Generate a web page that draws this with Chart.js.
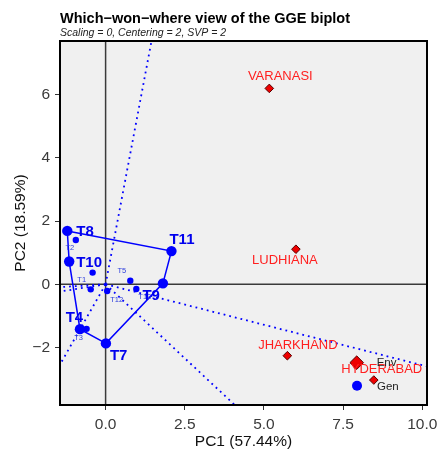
<!DOCTYPE html>
<html>
<head>
<meta charset="utf-8">
<script src="https://cdn.jsdelivr.net/npm/chart.js@4/dist/chart.umd.min.js"></script>
<style>
  html, body { margin: 0; padding: 0; background: #ffffff; }
  #wrap { width: 439px; height: 452px; }
</style>
</head>
<body>
<div id="wrap"><canvas id="c" width="439" height="452"></canvas></div>
<script>
// Genotype scores (PC1, PC2)
const genNames = ['T8', 'T2', 'T10', 'T6', 'T1', 'T12', 'T5', 'T13', 'T9', 'T11', 'T4', 'T3', 'T7'];
const genPC1   = [-1.21, -0.94, -1.15, -0.41, -0.47, 0.05, 0.78, 0.97, 1.81, 2.08, -0.81, -0.60, 0.01];
const genPC2   = [ 1.69,  1.40,  0.72,  0.37, -0.16, -0.21, 0.11, -0.15, 0.03, 1.05, -1.42, -1.41, -1.87];
// Genotypes on the polygon vertices (drawn larger, bold labels)
const hullOrder = ['T8', 'T11', 'T9', 'T7', 'T4', 'T10', 'T8'];

// Environment scores (PC1, PC2)
const envNames = ['VARANASI', 'LUDHIANA', 'JHARKHAND', 'HYDERABAD'];
const envPC1   = [5.17, 6.01, 5.74, 8.47];
const envPC2   = [6.20, 1.11, -2.26, -3.03];

// Average environment / genotype markers
const markerNames = ['Env', 'Gen'];
const markerPC1   = [7.93, 7.94];
const markerPC2   = [-2.48, -3.21];

// Sector rays from the origin, perpendicular to the polygon sides
const rayEndPC1 = [1.45, 10.15, 4.08, -1.44, -1.44, -1.44];
const rayEndPC2 = [7.70, -2.60, -3.82, -2.54, -0.23, -0.09];

// Axis ticks
const xTicks = [0.0, 2.5, 5.0, 7.5, 10.0];
const yTicks = [-2, 0, 2, 4, 6];

const FONT = "'Liberation Sans', Arial, sans-serif";
const BLUE = '#0000ff';

const genPoints = genNames.map((n, i) => ({ x: genPC1[i], y: genPC2[i], name: n }));
const isVertex = n => hullOrder.includes(n);
const hullPoints = hullOrder.map(n => genPoints.find(p => p.name === n));

const rayDatasets = rayEndPC1.map((x, i) => ({
  data: [{ x: 0, y: 0 }, { x: x, y: rayEndPC2[i] }],
  showLine: true,
  borderColor: BLUE,
  borderWidth: 1.8,
  borderDash: [1.8, 4],
  pointRadius: 0,
  order: 6
}));

// label placement: [dx, dy, align, font]
const labelStyle = {
  T8:  [9, 1, 'left', 'bold 15px'],
  T10: [7, 1, 'left', 'bold 15px'],
  T11: [-2, -11, 'left', 'bold 15px'],
  T9:  [-3, 13, 'right', 'bold 15px'],
  T4:  [-5.5, -11, 'center', 'bold 15px'],
  T7:  [4, 12, 'left', 'bold 15px'],
  T2:  [-6, 8, 'center', '7.5px'],
  T1:  [-9, -9, 'center', '7.5px'],
  T3:  [-8, 9, 'center', '7.5px'],
  T5:  [-8.5, -10, 'center', '7.5px'],
  T12: [9.5, 9, 'center', '7.5px'],
  T13: [8.5, 8, 'center', '7.5px'],
  VARANASI:  [11, -11.5, 'center', '13px'],
  LUDHIANA:  [-11, 11, 'center', '13px'],
  JHARKHAND: [10.5, -10.5, 'center', '13px'],
  HYDERABAD: [8, -10.5, 'center', '13px'],
  Env: [20, 0.5, 'left', '11.5px'],
  Gen: [20, 1, 'left', '11.5px']
};
const labelColor = name => {
  if (envNames.includes(name)) return '#ff1f1f';
  if (markerNames.includes(name)) return '#222222';
  return isVertex(name) ? '#0000ee' : '#3040dd';
};

const panelPlugin = {
  id: 'panel',
  beforeDatasetsDraw(chart) {
    const { ctx, chartArea: a, scales: { x, y } } = chart;
    ctx.save();
    ctx.fillStyle = '#f0f0f0';
    ctx.fillRect(a.left, a.top, a.right - a.left, a.bottom - a.top);
    ctx.strokeStyle = '#3a3a3a';
    ctx.lineWidth = 1.5;
    ctx.beginPath();
    const x0 = x.getPixelForValue(0), y0 = y.getPixelForValue(0);
    ctx.moveTo(x0, a.top); ctx.lineTo(x0, a.bottom);
    ctx.moveTo(a.left, y0); ctx.lineTo(a.right, y0);
    ctx.stroke();
    ctx.restore();
  },
  afterDatasetsDraw(chart) {
    const { ctx, chartArea: a, scales: { x, y } } = chart;
    ctx.save();
    ctx.textBaseline = 'middle';
    const draw = (name, px, py) => {
      const s = labelStyle[name];
      if (!s) return;
      ctx.font = s[3] + ' ' + FONT;
      ctx.fillStyle = labelColor(name);
      ctx.textAlign = s[2];
      ctx.fillText(name, x.getPixelForValue(px) + s[0], y.getPixelForValue(py) + s[1]);
    };
    genNames.forEach((n, i) => draw(n, genPC1[i], genPC2[i]));
    envNames.forEach((n, i) => draw(n, envPC1[i], envPC2[i]));
    markerNames.forEach((n, i) => draw(n, markerPC1[i], markerPC2[i]));
    ctx.strokeStyle = '#000000';
    ctx.lineWidth = 2;
    ctx.strokeRect(a.left, a.top, a.right - a.left, a.bottom - a.top);
    // heading
    ctx.textAlign = 'left';
    ctx.textBaseline = 'alphabetic';
    ctx.fillStyle = '#000000';
    ctx.font = 'bold 14.5px ' + FONT;
    ctx.fillText('Which\u2212won\u2212where view of the GGE biplot', a.left, 22.5);
    ctx.font = 'italic 10.5px ' + FONT;
    ctx.fillStyle = '#222222';
    ctx.fillText('Scaling = 0, Centering = 2, SVP = 2', a.left, 35.5);
    ctx.restore();
  }
};

new Chart(document.getElementById('c'), {
  type: 'scatter',
  data: {
    datasets: [
      ...rayDatasets,
      {
        data: hullPoints,
        showLine: true,
        borderColor: BLUE,
        borderWidth: 1.5,
        pointRadius: 0,
        order: 5
      },
      {
        data: envPC1.map((v, i) => ({ x: v, y: envPC2[i] })),
        pointStyle: 'rectRot',
        pointRadius: 4.3,
        backgroundColor: '#ee0000',
        borderColor: '#550000',
        borderWidth: 1,
        order: 4
      },
      {
        data: [{ x: markerPC1[0], y: markerPC2[0] }],
        pointStyle: 'rectRot',
        pointRadius: 6.8,
        backgroundColor: '#ee0000',
        borderColor: '#550000',
        borderWidth: 1,
        order: 3
      },
      {
        data: [{ x: markerPC1[1], y: markerPC2[1] }],
        pointStyle: 'circle',
        pointRadius: 5,
        backgroundColor: BLUE,
        borderColor: BLUE,
        borderWidth: 0,
        order: 3
      },
      {
        data: genPoints,
        pointStyle: 'circle',
        pointRadius: genPoints.map(p => isVertex(p.name) ? 5.2 : 3.2),
        backgroundColor: BLUE,
        borderColor: BLUE,
        borderWidth: 0,
        order: 2
      }
    ]
  },
  options: {
    responsive: false,
    animation: false,
    events: [],
    layout: { padding: { top: 41, right: 12, bottom: 0, left: 0 } },
    plugins: { legend: { display: false }, tooltip: { enabled: false }, title: { display: false } },
    scales: {
      x: {
        type: 'linear',
        min: -1.44,
        max: 10.15,
        afterBuildTicks: s => { s.ticks = xTicks.map(v => ({ value: v })); },
        afterFit: s => { s.height = 47; s.paddingLeft = 0; s.paddingRight = 0; },
        grid: { display: true, drawOnChartArea: false, drawTicks: true, tickLength: 5, color: '#333333', lineWidth: 1 },
        border: { display: false },
        ticks: {
          padding: 5,
          color: '#3a3a3a',
          font: { family: FONT, size: 15.5 },
          callback: v => Number(v).toFixed(1)
        },
        title: {
          display: true,
          text: 'PC1 (57.44%)',
          color: '#111111',
          font: { family: FONT, size: 15.5 },
          padding: { top: 0, bottom: 1.2 }
        }
      },
      y: {
        type: 'linear',
        min: -3.82,
        max: 7.70,
        afterBuildTicks: s => { s.ticks = yTicks.map(v => ({ value: v })); },
        afterFit: s => { s.width = 60; s.paddingTop = 0; s.paddingBottom = 0; },
        grid: { display: true, drawOnChartArea: false, drawTicks: true, tickLength: 5, color: '#333333', lineWidth: 1 },
        border: { display: false },
        ticks: {
          padding: 5,
          color: '#3a3a3a',
          font: { family: FONT, size: 15.5 },
          callback: v => (v < 0 ? '\u2212' + Math.abs(v) : String(v))
        },
        title: {
          display: true,
          text: 'PC2 (18.59%)',
          color: '#111111',
          font: { family: FONT, size: 15.5 },
          padding: { top: 11, bottom: 0 }
        }
      }
    }
  },
  plugins: [panelPlugin]
});
</script>
</body>
</html>
